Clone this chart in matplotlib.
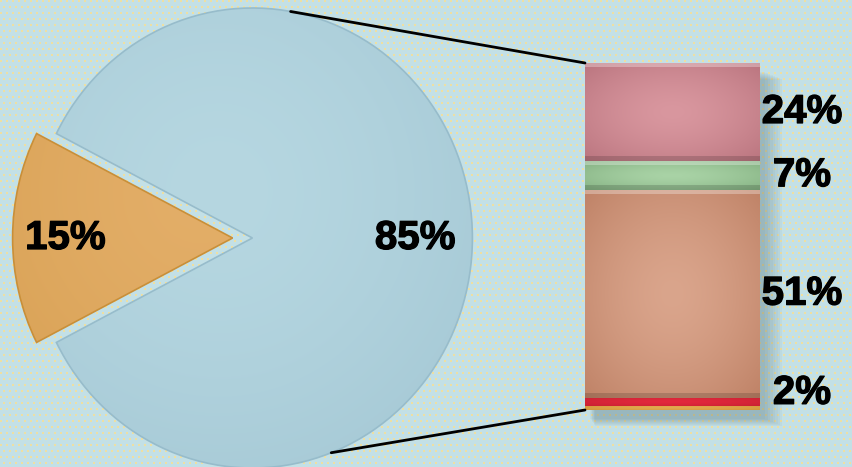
import numpy as np
import matplotlib.pyplot as plt
import matplotlib.patheffects as pe
from matplotlib.patches import ConnectionPatch, Rectangle
from matplotlib.colors import to_rgb

# pie: small slice first, big slice second
pie_values = [15, 85]
pie_colors = ["#e3ae68", "#b6d7e1"]
pie_dark = ["#c98f38", "#97bccb"]
pie_explode = [0.07, 0.02]

# bar that splits the big slice, bottom to top
bar_values = [1, 2, 51, 7, 24]
bar_labels = ["", "2%", "51%", "7%", "24%"]
bar_colors = ["#e3aa50", "#e3293d", "#daa58c", "#a9d3a6", "#d9979f"]
bar_dark = ["#c68a2c", "#b81c2c", "#b06f52", "#6f9d6d", "#a9626d"]

W, H = 852, 467
fig = plt.figure(figsize=(W / 100, H / 100), dpi=100)

# dotted background
bg = np.empty((H, W, 3))
bg[:] = to_rgb("#c3e0e6")
yy, xx = np.mgrid[0:H, 0:W]
dots = ((yy % 6) < 2) & (((xx + 3 * ((yy // 6) % 2)) % 6) < 2)
bg[dots] = to_rgb("#eedfa2")
fig.figimage(bg, zorder=-10)


def shade(ax, patch, light, dark, extent, hl=(-0.3, 0.4), scale=1.6):
    x0, x1, y0, y1 = extent
    gx, gy = np.meshgrid(np.linspace(x0, x1, 200), np.linspace(y0, y1, 200))
    cx = x0 + (hl[0] + 1) / 2 * (x1 - x0)
    cy = y0 + (hl[1] + 1) / 2 * (y1 - y0)
    d = np.hypot((gx - cx) / (x1 - x0), (gy - cy) / (y1 - y0)) * 2 / scale
    t = np.clip(d, 0, 1)[..., None] ** 1.5
    img = np.array(to_rgb(light)) * (1 - t) + np.array(to_rgb(dark)) * t
    im = ax.imshow(img, extent=extent, origin="lower", aspect="auto",
                   zorder=patch.get_zorder() + 0.1, interpolation="bilinear")
    im.set_clip_path(patch)
    return im


label_style = dict(ha="center", va="center", fontsize=29, fontweight="bold",
                   family=["Liberation Sans", "DejaVu Sans"], zorder=5,
                   path_effects=[pe.withStroke(linewidth=0.9, foreground="black")])

# ---- pie ----
ax_pie = fig.add_axes([0, -9 / H, 496 / W, 476 / H])
ax_pie.axis("off")
wedges, _ = ax_pie.pie(pie_values, colors=pie_colors, explode=pie_explode,
                       startangle=180 - pie_values[0] * 1.8, radius=1,
                       wedgeprops=dict(linewidth=0))
for w, c, dk in zip(wedges, pie_colors, pie_dark):
    cx, cy = w.center
    shade(ax_pie, w, c, dk, (cx - 1, cx + 1, cy - 1, cy + 1), hl=(-0.15, 0.2), scale=2.2)
    w.set_edgecolor(dk)
    w.set_linewidth(1.2)
    w.set_zorder(w.get_zorder() + 0.2)
    w.set_facecolor("none")
ax_pie.set_aspect("auto")
ax_pie.set_xlim(-248 / 220, 248 / 220)
ax_pie.set_ylim(-238 / 230, 238 / 230)

label_dist = [0.76, 0.74]
for w, v, d in zip(wedges, pie_values, label_dist):
    th = np.deg2rad((w.theta1 + w.theta2) / 2)
    ax_pie.text(w.center[0] + d * np.cos(th), w.center[1] + d * np.sin(th), f"{v}%",
                **label_style)

# ---- bar ----
total = sum(bar_values)
bottoms = np.concatenate([[0], np.cumsum(bar_values)[:-1]])
ax_bar = fig.add_axes([585 / W, 57 / H, 175 / W, 347 / H])
ax_bar.axis("off")

# soft shadow
for k in range(8):
    ax_bar.add_patch(Rectangle((-0.5 + 0.03 + k * 0.004, -2.2 - k * 0.25), 1 + k * 0.01,
                               total, color="#2a4a55", alpha=0.035, lw=0,
                               clip_on=False, zorder=1))

bars = ax_bar.bar(0, bar_values, bottom=bottoms, width=1, color=bar_colors,
                  linewidth=0, zorder=2)
for b, c, dk, v, y0 in zip(bars, bar_colors, bar_dark, bar_values, bottoms):
    shade(ax_bar, b, c, dk, (-0.5, 0.5, y0, y0 + v), hl=(0.0, 0.0), scale=1.9)
    if v >= 5:
        ax_bar.add_patch(Rectangle((-0.5, y0 + v - 1.1), 1, 1.1, color="white",
                                   alpha=0.3, lw=0, zorder=3))
        ax_bar.add_patch(Rectangle((-0.5, y0), 1, 1.1, color="black",
                                   alpha=0.15, lw=0, zorder=3))
ax_bar.set_aspect("auto")
ax_bar.set_xlim(-0.5, 0.5)
ax_bar.set_ylim(0, total)

for lab, v, y0 in zip(bar_labels, bar_values, bottoms):
    if not lab:
        continue
    ax_bar.text(0.74, max(y0 + v / 2, 4.2), lab, clip_on=False, **label_style)

# connector lines from the big slice to the bar
big = wedges[1]
for ang, yb in [(80, total), (-69, 0)]:
    th = np.deg2rad(ang)
    con = ConnectionPatch(xyA=(big.center[0] + np.cos(th), big.center[1] + np.sin(th)),
                          coordsA=ax_pie.transData, xyB=(-0.5, yb), coordsB=ax_bar.transData,
                          color="black", lw=2, zorder=0.5)
    fig.add_artist(con)

fig.savefig("out.png", dpi=100)
